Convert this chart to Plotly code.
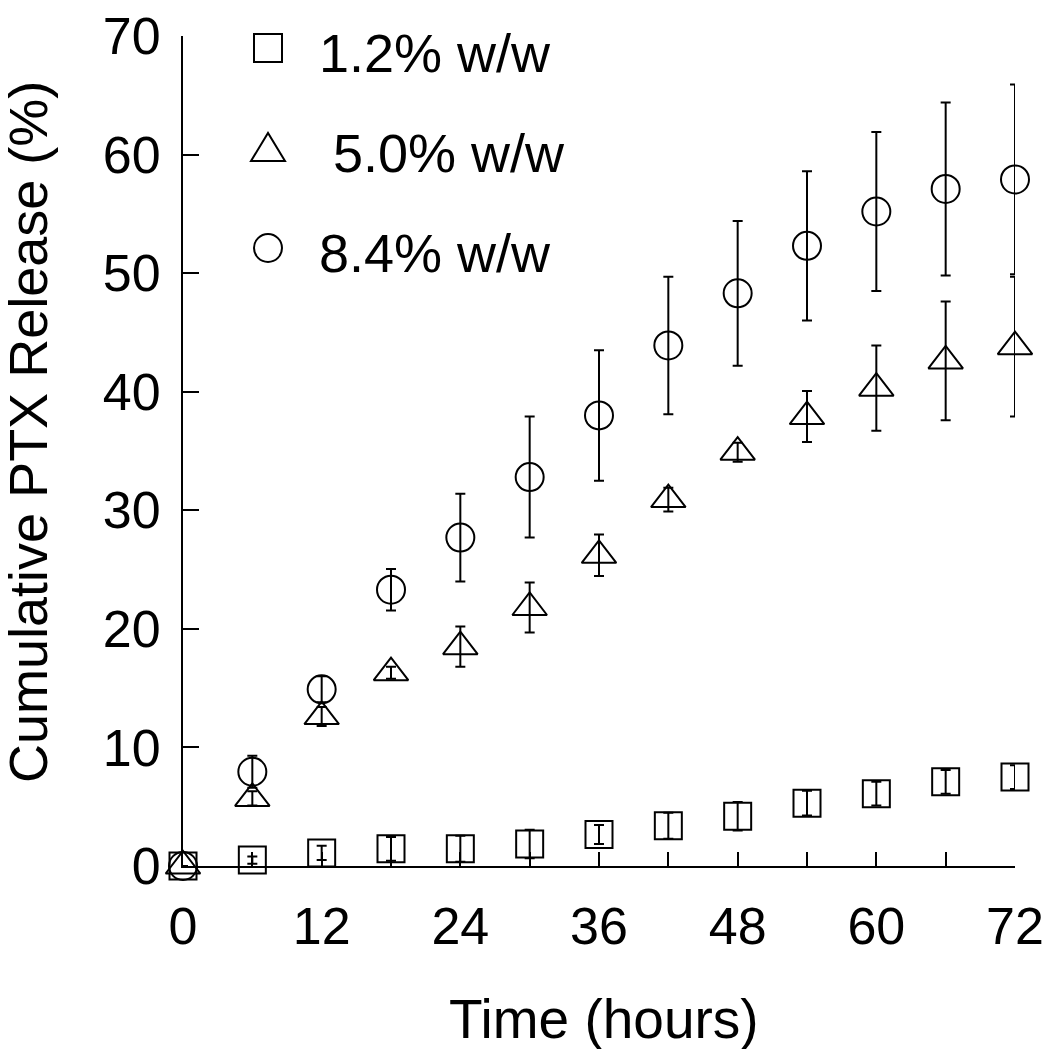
import plotly.graph_objects as go

# ---------------- data ----------------
time_h = [0, 6, 12, 18, 24, 30, 36, 42, 48, 54, 60, 66, 72]

rel_1p2 = [0, 0.5, 1.1, 1.45, 1.45, 1.85, 2.65, 3.4, 4.2, 5.3, 6.1, 7.1, 7.5]
err_1p2 = [0, 0.3, 0.6, 1.0, 1.1, 1.2, 0.8, 1.1, 1.2, 1.05, 1.0, 1.0, 1.0]

rel_5p0 = [0, 5.7, 12.6, 16.3, 18.5, 21.8, 26.2, 30.9, 34.9, 37.9, 40.3, 42.6, 43.8]
err_5p0 = [0, 0.6, 0.8, 0.5, 1.7, 2.1, 1.75, 1.0, 0.8, 2.15, 3.6, 5.0, 5.9]

rel_8p4 = [0, 7.95, 14.9, 23.3, 27.7, 32.8, 38.0, 43.9, 48.3, 52.3, 55.2, 57.1, 57.9]
err_8p4 = [0, 1.35, 1.1, 1.75, 3.7, 5.1, 5.5, 5.8, 6.1, 6.3, 6.7, 7.3, 8.0]

series_names = ["1.2% w/w", "5.0% w/w", "8.4% w/w"]
x_ticks = [0, 12, 24, 36, 48, 60, 72]
y_ticks = [0, 10, 20, 30, 40, 50, 60, 70]

x_title = "Time (hours)"
y_title = "Cumulative PTX Release (%)"

# ---------------- layout geometry ----------------
# the page body adds an 8px offset; the figure is sized to fill the rest
OFF = 8
W, H = 1050 - OFF, 1049 - OFF
PLOT_L, PLOT_R, PLOT_T, PLOT_B = 183, 1015, 36, 866   # target window pixels
ML, MT = PLOT_L - OFF, PLOT_T - OFF
MR = W - (PLOT_R - OFF)
MB = H - (PLOT_B - OFF)
PW, PH = PLOT_R - PLOT_L, PLOT_B - PLOT_T
FONT = "Liberation Sans, Arial, Helvetica, sans-serif"


def px_x(px):
    return (px - PLOT_L) / PW


def px_y(py):
    return (PLOT_B - py) / PH


symbols = ["square-open", "triangle-up-open", "circle-open"]
sizes = [27, 30, 28]
values = [rel_1p2, rel_5p0, rel_8p4]
errors = [err_1p2, err_5p0, err_8p4]

fig = go.Figure()
for name, sym, sz, vals, errs in zip(series_names, symbols, sizes, values, errors):
    fig.add_trace(go.Scatter(
        x=time_h, y=vals, name=name, mode="markers",
        marker=dict(symbol=sym, size=sz, color="black", line=dict(color="black", width=2)),
        error_y=dict(type="data", array=errs, visible=True, color="black",
                     thickness=2, width=5),
        cliponaxis=False, showlegend=False,
    ))

axis_common = dict(
    showline=True, linecolor="black", linewidth=2, mirror=False,
    showgrid=False, zeroline=False, automargin=False,
    ticks="inside", tickcolor="black", tickwidth=2,
    ticklabeloverflow="allow",
    tickfont=dict(family=FONT, size=52, color="black"),
)

fig.update_xaxes(
    range=[0, 72], tickvals=x_ticks, ticklen=14,
    minor=dict(dtick=6, tick0=0, ticks="inside", ticklen=14, tickwidth=2, tickcolor="black"),
    ticklabelstandoff=14,
    **axis_common,
)
fig.update_yaxes(
    range=[0, 70], tickvals=y_ticks, ticklen=16,
    ticklabelstandoff=10,
    **axis_common,
)

annotations = [
    dict(text=x_title, xref="paper", yref="paper", x=px_x(604), y=px_y(1019),
         xanchor="center", yanchor="middle", showarrow=False,
         font=dict(family=FONT, size=55, color="black")),
    dict(text=y_title, xref="paper", yref="paper", x=px_x(28), y=px_y(432),
         xanchor="center", yanchor="middle", showarrow=False, textangle=-90,
         font=dict(family=FONT, size=54, color="black")),
]

# manual legend (keys + labels), in target-window pixels
leg_key_x = 268
leg_rows_y = [48, 148, 248]
leg_text_x = [317, 331, 317]
leg_text_y = [53, 153, 253]

shapes = []
r = 14
shapes.append(dict(type="rect", xref="paper", yref="paper", xsizemode="pixel", ysizemode="pixel",
                   xanchor=px_x(leg_key_x), yanchor=px_y(leg_rows_y[0]),
                   x0=-r, x1=r, y0=-r, y1=r, line=dict(color="black", width=2)))
shapes.append(dict(type="path", xref="paper", yref="paper", xsizemode="pixel", ysizemode="pixel",
                   xanchor=px_x(leg_key_x), yanchor=px_y(leg_rows_y[1]),
                   path="M -17,-13 L 17,-13 L 0,15 Z", line=dict(color="black", width=2)))
shapes.append(dict(type="circle", xref="paper", yref="paper", xsizemode="pixel", ysizemode="pixel",
                   xanchor=px_x(leg_key_x), yanchor=px_y(leg_rows_y[2]),
                   x0=-r, x1=r, y0=-r, y1=r, line=dict(color="black", width=2)))

for name, tx, ty in zip(series_names, leg_text_x, leg_text_y):
    annotations.append(dict(text=name, xref="paper", yref="paper", x=px_x(tx), y=px_y(ty),
                            xanchor="left", yanchor="middle", showarrow=False,
                            font=dict(family=FONT, size=54, color="black")))

fig.update_layout(
    width=W, height=H, autosize=False,
    margin=dict(l=ML, r=MR, t=MT, b=MB, pad=0, autoexpand=False),
    paper_bgcolor="white", plot_bgcolor="white",
    font=dict(family=FONT, color="black"),
    showlegend=False,
    annotations=annotations, shapes=shapes,
)

fig.write_html("out.html")
